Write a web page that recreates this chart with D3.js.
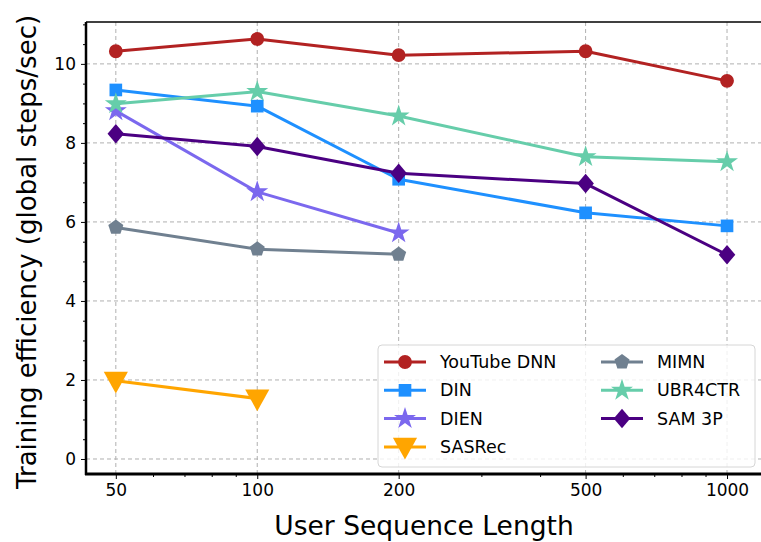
<!DOCTYPE html>
<html>
<head>
<meta charset="utf-8">
<script src="https://cdn.jsdelivr.net/npm/d3@7/dist/d3.min.js"></script>
<style>
    html, body { margin: 0; padding: 0; background: #ffffff; }
    svg { display: block; font-family: "DejaVu Sans", sans-serif; }
</style>
</head>
<body>
<div id="chart"></div>
<script>
(function () {
    "use strict";

    const seqLengths = [50, 100, 200, 500, 1000];
    const xTickLabels = ["50", "100", "200", "500", "1000"];
    const yTicks = [0, 2, 4, 6, 8, 10];

    const youtubeDnn = [10.32, 10.63, 10.22, 10.32, 9.57];
    const din = [9.34, 8.93, 7.08, 6.23, 5.90];
    const dien = [8.81, 6.76, 5.72, null, null];
    const sasrec = [1.98, 1.53, null, null, null];
    const mimn = [5.86, 5.31, 5.18, null, null];
    const ubr4ctr = [8.99, 9.30, 8.68, 7.65, 7.52];
    const sam3p = [8.23, 7.91, 7.23, 6.97, 5.17];

    const seriesNames = ["YouTube DNN", "DIN", "DIEN", "SASRec", "MIMN", "UBR4CTR", "SAM 3P"];
    const seriesValues = [youtubeDnn, din, dien, sasrec, mimn, ubr4ctr, sam3p];
    const seriesColors = ["#b22222", "#1e90ff", "#7b68ee", "#ffa500", "#708090", "#66cdaa", "#4b0082"];

    // custom marker shapes matching matplotlib's "v", "p" and "D"
    const triangleDown = {
        draw(ctx, size) {
            const r = Math.sqrt(size / 1.3);
            ctx.moveTo(-r, -r * 0.75);
            ctx.lineTo(r, -r * 0.75);
            ctx.lineTo(0, r * 1.05);
            ctx.closePath();
        }
    };
    const pentagon = {
        draw(ctx, size) {
            const r = Math.sqrt(size / 2.4);
            for (let i = 0; i < 5; i += 1) {
                const a = -Math.PI / 2 + i * 2 * Math.PI / 5;
                const px = r * Math.cos(a);
                const py = r * Math.sin(a);
                if (i === 0) ctx.moveTo(px, py); else ctx.lineTo(px, py);
            }
            ctx.closePath();
        }
    };
    const diamond = {
        draw(ctx, size) {
            const r = Math.sqrt(size / 2);
            ctx.moveTo(0, -r);
            ctx.lineTo(r * 0.85, 0);
            ctx.lineTo(0, r);
            ctx.lineTo(-r * 0.85, 0);
            ctx.closePath();
        }
    };

    const markers = [
        { type: d3.symbolCircle, size: 150 },
        { type: d3.symbolSquare, size: 160 },
        { type: d3.symbolStar, size: 150 },
        { type: triangleDown, size: 190 },
        { type: pentagon, size: 150 },
        { type: d3.symbolStar, size: 150 },
        { type: diamond, size: 190 }
    ];

    const width = 761;
    const height = 542;
    const plot = { left: 86, right: 762, top: 22, bottom: 474 };

    const x = d3.scaleLog().domain([43.2, 1187]).range([plot.left, plot.right]);
    const y = d3.scaleLinear().domain([-0.38, 11.06]).range([plot.bottom, plot.top]);

    const svg = d3.select("#chart")
        .append("svg")
        .attr("width", width)
        .attr("height", height);

    // grid
    const grid = svg.append("g").attr("stroke", "#b0b0b0").attr("stroke-width", 1)
        .attr("stroke-dasharray", "4,3");
    grid.selectAll("line.gx")
        .data(seqLengths)
        .join("line")
        .attr("x1", (d) => x(d)).attr("x2", (d) => x(d))
        .attr("y1", plot.top).attr("y2", plot.bottom);
    grid.selectAll("line.gy")
        .data(yTicks)
        .join("line")
        .attr("x1", plot.left).attr("x2", plot.right)
        .attr("y1", (d) => y(d)).attr("y2", (d) => y(d));

    // lines and markers
    const line = d3.line()
        .defined((d) => d.v !== null)
        .x((d) => x(d.len))
        .y((d) => y(d.v));

    seriesValues.forEach((vals, i) => {
        const pts = vals.map((v, j) => ({ len: seqLengths[j], v }));
        const g = svg.append("g");
        g.append("path")
            .datum(pts)
            .attr("fill", "none")
            .attr("stroke", seriesColors[i])
            .attr("stroke-width", 3)
            .attr("stroke-linejoin", "round")
            .attr("d", line);
        g.selectAll("path.m")
            .data(pts.filter((p) => p.v !== null))
            .join("path")
            .attr("class", "m")
            .attr("transform", (d) => `translate(${x(d.len)},${y(d.v)})`)
            .attr("fill", seriesColors[i])
            .attr("d", d3.symbol(markers[i].type, markers[i].size));
    });

    // axes
    const xAxis = d3.axisBottom(x)
        .tickValues(seqLengths)
        .tickFormat((d, i) => xTickLabels[i])
        .tickSize(5)
        .tickPadding(5);
    const xMinor = [60, 70, 80, 90, 300, 400, 600, 700, 800, 900];
    svg.append("g")
        .attr("transform", `translate(0,${plot.bottom})`)
        .call(d3.axisBottom(x).tickValues(xMinor).tickFormat("").tickSize(3))
        .call((g) => g.select(".domain").remove())
        .call((g) => g.selectAll("line").attr("stroke", "#000"));
    svg.append("g")
        .attr("transform", `translate(0,${plot.bottom})`)
        .call(xAxis)
        .call((g) => g.select(".domain").remove())
        .call((g) => g.selectAll("line").attr("stroke", "#000"))
        .call((g) => g.selectAll("text").attr("fill", "#000")
            .style("font-size", "17px").style("font-family", "DejaVu Sans"));

    const yMinor = d3.range(0, 11.01, 0.5).filter((v) => v % 2 !== 0);
    svg.append("g")
        .attr("transform", `translate(${plot.left},0)`)
        .call(d3.axisLeft(y).tickValues(yMinor).tickFormat("").tickSize(3))
        .call((g) => g.select(".domain").remove())
        .call((g) => g.selectAll("line").attr("stroke", "#000"));
    svg.append("g")
        .attr("transform", `translate(${plot.left},0)`)
        .call(d3.axisLeft(y).tickValues(yTicks).tickSize(5).tickPadding(5))
        .call((g) => g.select(".domain").remove())
        .call((g) => g.selectAll("line").attr("stroke", "#000"))
        .call((g) => g.selectAll("text").attr("fill", "#000")
            .style("font-size", "17px").style("font-family", "DejaVu Sans"));

    // spines
    svg.append("line")
        .attr("x1", plot.left).attr("x2", plot.right)
        .attr("y1", plot.top).attr("y2", plot.top)
        .attr("stroke", "#000").attr("stroke-width", 1.5);
    svg.append("line")
        .attr("x1", plot.left).attr("x2", plot.left)
        .attr("y1", plot.top).attr("y2", plot.bottom + 1)
        .attr("stroke", "#000").attr("stroke-width", 2.5);
    svg.append("line")
        .attr("x1", plot.left - 1).attr("x2", plot.right)
        .attr("y1", plot.bottom).attr("y2", plot.bottom)
        .attr("stroke", "#000").attr("stroke-width", 3);

    // axis labels
    svg.append("text")
        .attr("transform", `translate(27,252) rotate(-90)`)
        .attr("text-anchor", "middle")
        .attr("dominant-baseline", "central")
        .style("font-size", "26px")
        .text("Training efficiency (global steps/sec)");
    svg.append("text")
        .attr("x", (plot.left + plot.right) / 2)
        .attr("y", 535)
        .attr("text-anchor", "middle")
        .style("font-size", "26.5px")
        .text("User Sequence Length");

    // legend
    const legend = svg.append("g");
    legend.append("rect")
        .attr("x", 378).attr("y", 345)
        .attr("width", 377).attr("height", 122)
        .attr("rx", 4)
        .attr("fill", "#ffffff").attr("fill-opacity", 0.8)
        .attr("stroke", "#d6d6d6");
    seriesNames.forEach((name, i) => {
        const col = i < 4 ? 0 : 1;
        const row = i < 4 ? i : i - 4;
        const lx = col === 0 ? 384 : 601;
        const ly = 362 + row * 28.3;
        const item = legend.append("g");
        item.append("line")
            .attr("x1", lx).attr("x2", lx + 42)
            .attr("y1", ly).attr("y2", ly)
            .attr("stroke", seriesColors[i]).attr("stroke-width", 3);
        item.append("path")
            .attr("transform", `translate(${lx + 21},${ly})`)
            .attr("fill", seriesColors[i])
            .attr("d", d3.symbol(markers[i].type, markers[i].size));
        item.append("text")
            .attr("x", lx + 56)
            .attr("y", ly)
            .attr("dominant-baseline", "central")
            .style("font-size", "17.5px")
            .text(name);
    });
})();
</script>
</body>
</html>
